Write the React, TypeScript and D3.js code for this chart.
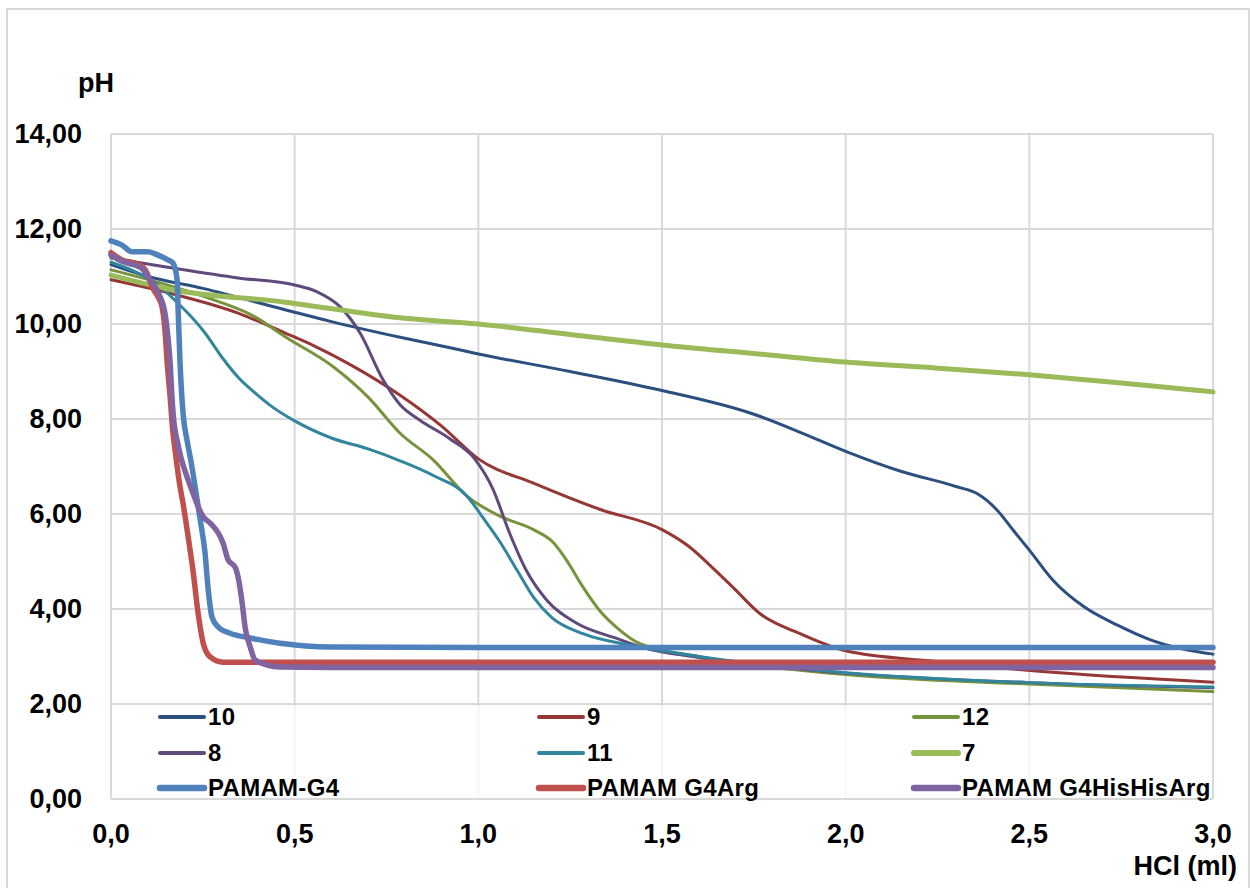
import React from 'react';
import * as d3 from 'd3';

// titration curves, pH vs HCl volume (ml)
const s10 = [[0, 11.25], [0.1, 11.0], [0.25, 10.75], [0.474, 10.3], [0.6, 10.05], [0.787, 9.72], [0.923, 9.5], [1.0, 9.37], [1.25, 9.0], [1.5, 8.6], [1.75, 8.1], [1.876, 7.72], [2.0, 7.32], [2.15, 6.9], [2.3, 6.58], [2.36, 6.42], [2.41, 6.1], [2.46, 5.62], [2.5, 5.24], [2.565, 4.6], [2.65, 4.04], [2.74, 3.66], [2.83, 3.35], [3.0, 3.05]];
const s9 = [[0, 10.93], [0.16, 10.65], [0.346, 10.23], [0.474, 9.81], [0.55, 9.55], [0.65, 9.15], [0.787, 8.5], [0.9, 7.85], [1.0, 7.16], [1.15, 6.65], [1.33, 6.1], [1.5, 5.67], [1.576, 5.3], [1.64, 4.85], [1.694, 4.45], [1.767, 3.9], [1.876, 3.48], [2.0, 3.12], [2.24, 2.9], [2.51, 2.7], [3.0, 2.46]];
const s12 = [[0, 11.14], [0.256, 10.57], [0.392, 10.15], [0.474, 9.73], [0.605, 9.1], [0.7, 8.46], [0.787, 7.7], [0.877, 7.14], [0.97, 6.37], [1.06, 5.95], [1.15, 5.67], [1.204, 5.4], [1.24, 5.03], [1.285, 4.46], [1.33, 3.97], [1.377, 3.61], [1.44, 3.27], [1.6, 3.0], [2.0, 2.62], [2.5, 2.42], [3.0, 2.26]];
const s8 = [[0, 11.39], [0.167, 11.18], [0.346, 10.97], [0.5, 10.82], [0.56, 10.68], [0.624, 10.36], [0.678, 9.81], [0.741, 8.82], [0.787, 8.3], [0.84, 7.98], [0.923, 7.58], [0.99, 7.16], [1.04, 6.52], [1.085, 5.6], [1.13, 4.82], [1.187, 4.18], [1.268, 3.7], [1.377, 3.38], [1.448, 3.19], [1.6, 2.98], [2.0, 2.65], [2.5, 2.45], [3.0, 2.34]];
const s11 = [[0, 11.3], [0.074, 11.07], [0.128, 10.82], [0.174, 10.5], [0.209, 10.23], [0.256, 9.81], [0.302, 9.3], [0.346, 8.88], [0.392, 8.55], [0.44, 8.25], [0.5, 7.96], [0.6, 7.6], [0.7, 7.37], [0.787, 7.12], [0.88, 6.8], [0.97, 6.37], [1.01, 5.95], [1.06, 5.4], [1.105, 4.82], [1.15, 4.25], [1.2, 3.82], [1.285, 3.48], [1.42, 3.23], [1.6, 3.0], [2.0, 2.66], [2.5, 2.45], [3.0, 2.36]];
const s7 = [[0, 11.03], [0.167, 10.72], [0.474, 10.46], [0.787, 10.13], [1.0, 10.0], [1.25, 9.78], [1.5, 9.56], [1.75, 9.38], [2.0, 9.2], [2.25, 9.07], [2.5, 8.93], [2.75, 8.76], [3.0, 8.57]];
const pamamG4 = [[0, 11.75], [0.03, 11.66], [0.057, 11.52], [0.1, 11.52], [0.128, 11.45], [0.155, 11.35], [0.169, 11.28], [0.18, 10.93], [0.183, 10.23], [0.188, 9.18], [0.196, 8.13], [0.207, 7.55], [0.218, 7.1], [0.229, 6.57], [0.243, 5.87], [0.256, 5.18], [0.264, 4.46], [0.275, 3.83], [0.292, 3.62], [0.324, 3.49], [0.379, 3.39], [0.46, 3.28], [0.6, 3.2], [1.0, 3.19], [3.0, 3.19]];
const pamamArg = [[0, 11.5], [0.03, 11.35], [0.065, 11.28], [0.087, 11.2], [0.098, 11.07], [0.112, 10.78], [0.128, 10.57], [0.139, 10.36], [0.147, 9.87], [0.153, 9.18], [0.161, 8.46], [0.167, 7.85], [0.176, 7.25], [0.188, 6.57], [0.196, 6.23], [0.21, 5.52], [0.223, 4.82], [0.237, 3.92], [0.251, 3.28], [0.27, 2.99], [0.305, 2.88], [0.4, 2.88], [3.0, 2.88]];
const pamamHisArg = [[0, 11.45], [0.03, 11.32], [0.065, 11.24], [0.087, 11.15], [0.1, 11.0], [0.12, 10.78], [0.134, 10.57], [0.147, 10.23], [0.155, 9.73], [0.161, 9.18], [0.166, 8.46], [0.171, 7.95], [0.18, 7.55], [0.19, 7.2], [0.207, 6.78], [0.223, 6.44], [0.251, 5.94], [0.27, 5.81], [0.292, 5.6], [0.305, 5.39], [0.319, 5.03], [0.338, 4.88], [0.346, 4.67], [0.357, 4.13], [0.365, 3.62], [0.379, 3.2], [0.392, 2.93], [0.425, 2.82], [0.46, 2.78], [0.6, 2.77], [3.0, 2.77]];

const seriesNames = ['10', '9', '12', '8', '11', '7', 'PAMAM-G4', 'PAMAM G4Arg', 'PAMAM G4HisHisArg'];
const seriesData = [s10, s9, s12, s8, s11, s7, pamamG4, pamamArg, pamamHisArg];
const seriesColors = ['#2b4f7e', '#953735', '#77933c', '#604a7b', '#31859c', '#9bbb59', '#4f81bd', '#c0504d', '#8064a2'];
const seriesWidths = [3, 3, 3, 3, 3, 5, 5.5, 5.5, 5.5];

const yTicks = [0, 2, 4, 6, 8, 10, 12, 14];
const yTickLabels = ['0,00', '2,00', '4,00', '6,00', '8,00', '10,00', '12,00', '14,00'];
const xTicks = [0, 0.5, 1, 1.5, 2, 2.5, 3];
const xTickLabels = ['0,0', '0,5', '1,0', '1,5', '2,0', '2,5', '3,0'];

const W = 1250, H = 888;
const plot = { left: 111, right: 1213, top: 134, bottom: 799 };
const font = "'Liberation Sans', Arial, sans-serif";
const grid = '#d9d9d9';

export default function App() {
    const x = d3.scaleLinear().domain([0, 3]).range([plot.left, plot.right]);
    const y = d3.scaleLinear().domain([0, 14]).range([plot.bottom, plot.top]);

    const line = d3.line<number[]>()
        .x((d) => x(d[0]))
        .y((d) => y(d[1]))
        .curve(d3.curveMonotoneX);

    // legend layout: 3 columns x 3 rows (text start positions)
    const legCols = [208, 587, 962];
    const legRows = [717, 753, 788];

    return (
        <svg width={W} height={H} style={{ position: 'absolute', left: 0, top: 0, background: '#fff' }}
            fontFamily={font} fontWeight="bold">
            <rect x={7} y={9} width={1242} height={H + 10} fill="#fff" stroke={grid} strokeWidth={2} />

            {/* grid */}
            {yTicks.map((t) => (
                <line key={'gy' + t} x1={plot.left} x2={plot.right} y1={y(t)} y2={y(t)} stroke={grid} strokeWidth={2} />
            ))}
            {xTicks.map((t) => (
                <line key={'gx' + t} x1={x(t)} x2={x(t)} y1={plot.top} y2={plot.bottom} stroke={grid} strokeWidth={2} />
            ))}

            {/* curves */}
            {seriesData.map((d, i) => (
                <path key={seriesNames[i]} d={line(d as number[][]) || ''} fill="none"
                    stroke={seriesColors[i]} strokeWidth={seriesWidths[i]} strokeLinejoin="round" strokeLinecap="round" />
            ))}

            {/* legend box sits inside the plot */}
            <rect x={plot.left + 1} y={y(2) + 2} width={plot.right - plot.left - 2} height={plot.bottom - y(2) - 3}
                fill="#fff" opacity={0.75} />
            {seriesNames.map((name, i) => {
                const tx = legCols[i % 3];
                const cy = legRows[Math.floor(i / 3)];
                return (
                    <g key={'leg' + name}>
                        <line x1={tx - 48} x2={tx - 4} y1={cy} y2={cy} stroke={seriesColors[i]}
                            strokeWidth={seriesWidths[i] + 1} strokeLinecap="round" />
                        <text x={tx} y={cy} dy="0.35em" fontSize={24} letterSpacing={0.3} fill="#000">{name}</text>
                    </g>
                );
            })}

            {/* y tick labels */}
            {yTicks.map((t, i) => (
                <text key={'ty' + t} x={82} y={y(t)} dy="0.35em" textAnchor="end" fontSize={27} fill="#000">
                    {yTickLabels[i]}
                </text>
            ))}
            {/* x tick labels */}
            {xTicks.map((t, i) => (
                <text key={'tx' + t} x={x(t)} y={843} textAnchor="middle" fontSize={27} fill="#000">
                    {xTickLabels[i]}
                </text>
            ))}

            <text x={78} y={92} fontSize={27} fill="#000">pH</text>
            <text x={1237} y={875} textAnchor="end" fontSize={27} fill="#000">HCl (ml)</text>
        </svg>
    );
}
